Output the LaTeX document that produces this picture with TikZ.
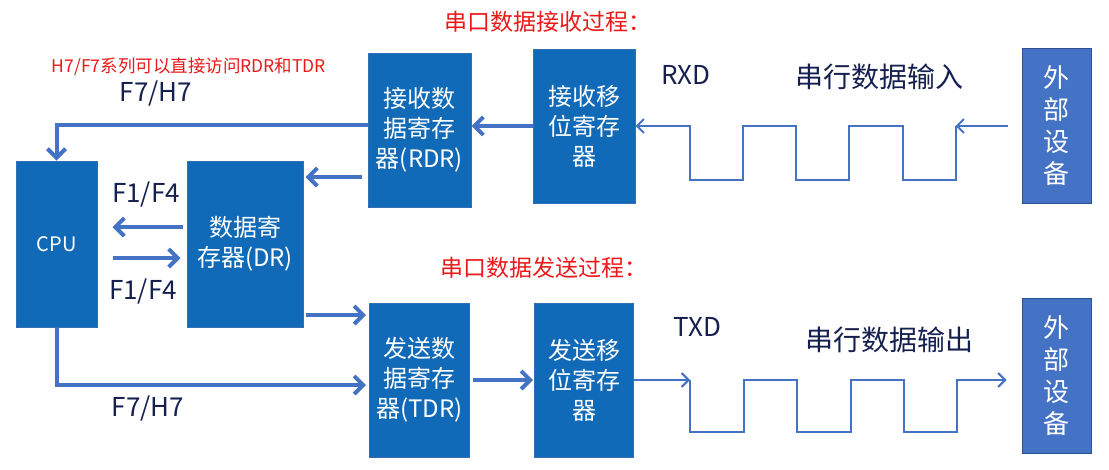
\documentclass[tikz,border=0pt]{standalone}
\usepackage{fontspec}
\setmainfont{Noto Sans CJK SC}
\usetikzlibrary{arrows.meta,positioning}

\definecolor{regblue}{RGB}{16,106,184}
\definecolor{regedge}{RGB}{52,110,180}
\definecolor{devblue}{RGB}{68,114,196}
\definecolor{devedge}{RGB}{47,82,143}
\definecolor{linkblue}{RGB}{68,114,196}
\definecolor{navy}{RGB}{22,32,80}
\definecolor{titlered}{RGB}{235,25,25}

\begin{document}
\begin{tikzpicture}[x=1pt,y=-1pt,>={Straight Barb[length=9pt,width=18pt]},
    reg/.style={draw=regedge,fill=regblue,text=white,line width=1pt,inner sep=0pt,
        minimum width=102pt,minimum height=154pt,align=center,
        font=\fontsize{24}{30}\selectfont},
    dev/.style={reg,draw=devedge,fill=devblue,minimum width=69pt,minimum height=155pt,
        font=\fontsize{26}{32}\selectfont},
    link/.style={->,draw=linkblue,line width=4pt},
    sig/.style={->,draw=linkblue,line width=2pt,>={Straight Barb[length=7pt,width=14pt]}},
    lbl/.style={text=navy,font=\fontsize{26}{30}\selectfont},
    title/.style={text=titlered,font=\fontsize{23}{28}\selectfont}]

    \useasboundingbox (0,0) rectangle (1109,469);

    % registers
    \node[reg,minimum width=81pt,minimum height=166pt,font=\fontsize{20}{24}\selectfont] (cpu) at (56.5,244) {CPU};
    \node[reg,minimum width=116pt,minimum height=166pt] (dr) [right=89pt of cpu] {数据寄\\存器(DR)};
    \node[reg,minimum width=103pt] (rdr) at (419.5,130) {接收数\\据寄存\\器(RDR)};
    \node[reg,yshift=4pt] (rxsr) [right=61pt of rdr] {接收移\\位寄存\\器};
    \node[dev] (rxdev) [right=386pt of rxsr] {外\\部\\设\\备};
    \node[reg,minimum width=100pt] (tdr) [below=95pt of rdr] {发送数\\据寄存\\器(TDR)};
    \node[reg,minimum width=99pt] (txsr) [right=64pt of tdr] {发送移\\位寄存\\器};
    \node[dev] (txdev) [below=94pt of rxdev] {外\\部\\设\\备};

    % texts
    \node[title] (rxtitle) at (548,22) {串口数据接收过程：};
    \node[title] (txtitle) at (544,268) {串口数据发送过程：};
    \node[text=titlered,font=\fontsize{17.5}{20}\selectfont] (note) at (189,67) {H7/F7系列可以直接访问RDR和TDR};
    \node[lbl] (l1) at (156,94) {F7/H7};
    \node[lbl] (l2) at (146,195) {F1/F4};
    \node[lbl] (l3) at (143,292) {F1/F4};
    \node[lbl] (l4) at (148,408) {F7/H7};
    \node[lbl] (rxd) at (686,75) {RXD};
    \node[lbl,font=\fontsize{28}{32}\selectfont] (rxin) at (879,77) {串行数据输入};
    \node[lbl] (txd) at (697,327) {TXD};
    \node[lbl,font=\fontsize{28}{32}\selectfont] (txout) at (889,340) {串行数据输出};

    % data paths
    \draw[link] (rxsr.west) -- (rxsr.west -| rdr.east);
    \draw[link] ([yshift=5pt]rdr.west) -| (cpu.north);
    \draw[link,shorten <=6pt,shorten >=2pt] ([yshift=-47pt]rdr.west) -- ([yshift=-47pt]rdr.west -| dr.east);
    \draw[link,shorten <=4pt,shorten >=15pt] ([yshift=17pt]dr.west) -- ([yshift=17pt]dr.west -| cpu.east);
    \draw[link,shorten <=15pt,shorten >=6pt] ([yshift=-14pt]cpu.east) -- ([yshift=-14pt]cpu.east -| dr.west);
    \draw[link,shorten <=2pt,shorten >=3pt] ([yshift=-71pt]dr.east) -- ([yshift=-71pt]dr.east -| tdr.west);
    \draw[link,shorten >=3pt] (cpu.south) |- ([yshift=-5pt]tdr.west);
    \draw[link,shorten <=3pt,shorten >=1pt] (tdr.east) -- (tdr.east -| txsr.west);

    % serial signals
    \coordinate (rxa) at ([xshift=-14pt]rxdev.west);
    \coordinate (rxb) at ([xshift=-66pt]rxdev.west);
    \draw[sig] (rxa) -- (rxb);
    \draw[sig] (rxb) -- ++(0,54) -- ++(-53,0) -- ++(0,-54) -- ++(-54,0) -- ++(0,54) -- ++(-53,0)
        -- ++(0,-54) -- ++(-53,0) -- ++(0,54) -- ++(-53,0) -- ++(0,-54) -- (rxb -| rxsr.east);

    \draw[sig] (txsr.east) -- ++(56,0) coordinate (txa);
    \draw[sig] (txa) -- ++(0,52) -- ++(54,0) -- ++(0,-52) -- ++(53,0) -- ++(0,52) -- ++(54,0)
        -- ++(0,-52) -- ++(53,0) -- ++(0,52) -- ++(53,0) -- ++(0,-52) coordinate (txb)
        -- ([xshift=-15pt]txb -| txdev.west);
\end{tikzpicture}
\end{document}
